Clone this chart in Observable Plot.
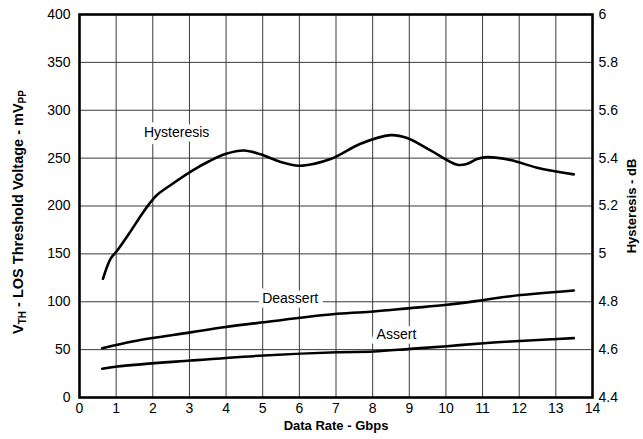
<!DOCTYPE html>
<html>
<head>
<meta charset="utf-8">
<script src="https://cdn.jsdelivr.net/npm/d3@7"></script>
<script src="https://cdn.jsdelivr.net/npm/@observablehq/plot@0.6"></script>
<style>
  html, body { margin: 0; padding: 0; background: #fff; }
  #chart svg { display: block; font-family: "Liberation Sans", Arial, sans-serif; }
</style>
</head>
<body>
<div id="chart"></div>
<script>
// ---- Data ----
const xTicks = [0,1,2,3,4,5,6,7,8,9,10,11,12,13,14];
const mvTicks = [0,50,100,150,200,250,300,350,400];
const dbTicks = [4.4,4.6,4.8,5,5.2,5.4,5.6,5.8,6];

// Hysteresis (dB, right axis)
const hystRate = [0.64,0.85,1.03,1.35,1.71,1.9,2.1,2.53,3.08,3.55,4.0,4.49,4.94,5.49,5.99,6.4,6.85,7.12,7.67,8.49,8.94,9.58,10.31,10.58,10.85,11.13,11.76,12.49,13.49];
const hystDb   = [4.896,4.98,5.014,5.084,5.168,5.208,5.244,5.292,5.348,5.388,5.418,5.432,5.416,5.384,5.368,5.376,5.396,5.416,5.46,5.496,5.484,5.432,5.372,5.376,5.396,5.404,5.392,5.36,5.332];

// Deassert (mVpp, left axis)
const deassertRate = [0.62,1.48,3.03,3.94,5.03,7.03,8.03,9.03,10.03,10.94,11.76,13.49];
const deassertMv   = [51.5,58.8,68,73.4,78.6,87.4,89.8,93.3,96.8,101.3,105.8,111.7];

// Assert (mVpp, left axis)
const assertRate = [0.62,1.03,3.03,5.03,7.03,8.03,9.03,10.03,11.03,11.76,12.76,13.49];
const assertMv   = [30,32.4,38.6,43.9,47.3,48,50.8,53.6,56.7,58.5,60.6,62];

// Curve labels
const labelText = ["Hysteresis","Deassert","Assert"];
const labelRate = [2.65,5.75,8.65];
const labelMv   = [277,103,66];

// right axis (dB) mapped onto the left (mV) scale: 4.4 dB -> 0, 6 dB -> 400
const dbToMv = d => (d - 4.4) * 250;
const mvToDb = v => 4.4 + v / 250;

const hyst = hystRate.map((x,i) => ({x, y: dbToMv(hystDb[i])}));
const deassert = deassertRate.map((x,i) => ({x, y: deassertMv[i]}));
const assert_ = assertRate.map((x,i) => ({x, y: assertMv[i]}));
const labels = labelText.map((t,i) => ({t, x: labelRate[i], y: labelMv[i]}));

const chart = Plot.plot({
  width: 643,
  height: 439,
  marginLeft: 79,
  marginRight: 51,
  marginTop: 14,
  marginBottom: 42,
  style: {fontFamily: "'Liberation Sans', Arial, sans-serif", fontSize: "14px", background: "#fff", color: "#000"},
  x: {domain: [0,14]},
  y: {domain: [0,400]},
  marks: [
    Plot.gridX(xTicks, {stroke: "#3a3a3a", strokeOpacity: 1, strokeWidth: 1}),
    Plot.gridY(mvTicks, {stroke: "#3a3a3a", strokeOpacity: 1, strokeWidth: 1}),
    Plot.axisX(xTicks, {tickSize: 0, tickPadding: 6, label: null, fontSize: 14}),
    Plot.axisY(mvTicks, {anchor: "left", tickSize: 0, tickPadding: 9, label: null, fontSize: 14}),
    Plot.axisY(dbTicks.map(dbToMv), {anchor: "right", tickSize: 0, tickPadding: 6, label: null, fontSize: 14,
      tickFormat: v => String(+mvToDb(v).toFixed(1))}),
    Plot.line(hyst, {x: "x", y: "y", stroke: "#000", strokeWidth: 2.6, curve: "catmull-rom"}),
    Plot.line(deassert, {x: "x", y: "y", stroke: "#000", strokeWidth: 2.6, curve: "catmull-rom"}),
    Plot.line(assert_, {x: "x", y: "y", stroke: "#000", strokeWidth: 2.6, curve: "catmull-rom"}),
    Plot.text(labels, {x: "x", y: "y", text: "t", fontSize: 14, fill: "#000", stroke: "#fff", strokeWidth: 9, strokeLinejoin: "miter"}),
    Plot.frame({stroke: "#000", strokeWidth: 2.6})
  ]
});

const svg = d3.select(chart);
// bottom axis title
svg.append("text")
  .attr("x", 336).attr("y", 430)
  .attr("text-anchor", "middle")
  .attr("font-weight", "bold").attr("font-size", 13)
  .text("Data Rate - Gbps");
// left axis title with subscripts
const lt = svg.append("text")
  .attr("transform", "translate(23,212) rotate(-90)")
  .attr("text-anchor", "middle")
  .attr("font-weight", "bold").attr("font-size", 14.5);
lt.append("tspan").text("V");
lt.append("tspan").attr("font-size", 10).attr("dy", 3).text("TH");
lt.append("tspan").attr("dy", -3).text(" - LOS Threshold Voltage - mV");
lt.append("tspan").attr("font-size", 10).attr("dy", 3).text("PP");
// right axis title
svg.append("text")
  .attr("transform", "translate(636,206) rotate(-90)")
  .attr("text-anchor", "middle")
  .attr("font-weight", "bold").attr("font-size", 13)
  .text("Hysteresis - dB");

document.getElementById("chart").appendChild(chart);
</script>
</body>
</html>
